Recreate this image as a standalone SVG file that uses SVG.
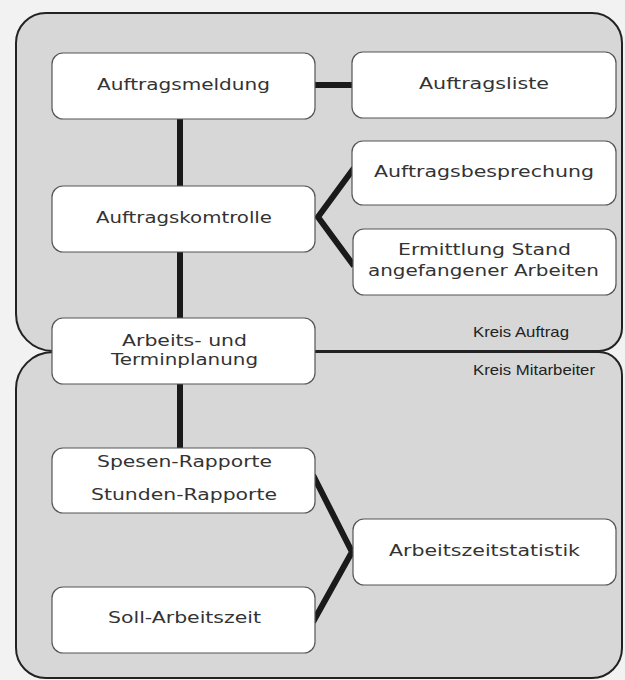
<svg xmlns="http://www.w3.org/2000/svg" width="625" height="680" viewBox="0 0 625 680">
<style>
.region{fill:#d7d7d7;stroke:#222;stroke-width:2}
.box{fill:#fff;stroke:#555;stroke-width:1.2}
.t{font-family:"DejaVu Sans","Liberation Sans",sans-serif;font-size:16px;fill:#333;text-anchor:middle}
.k{font-family:"Liberation Sans","Arial",sans-serif;font-size:15px;fill:#222}
.c{stroke:#1a1a1a;stroke-width:6;fill:none;stroke-linejoin:miter}
</style>
<rect x="0" y="0" width="625" height="680" fill="#f2f2f2"/>
<g id="regions">
<path class="region" d="M46 13 H592 A30 30 0 0 1 622 43 V328 A23 23 0 0 1 599 351 H53 A37 37 0 0 1 16 314 V43 A30 30 0 0 1 46 13 Z"/>
<path class="region" d="M53 352 H599 A23 23 0 0 1 622 375 V648 A30 30 0 0 1 592 678 H46 A30 30 0 0 1 16 648 V389 A37 37 0 0 1 53 352 Z"/>
<line x1="300" y1="351.5" x2="600" y2="351.5" stroke="#222" stroke-width="2.5"/>
</g>
<g id="connectors">
<line class="c" x1="310" y1="85" x2="356" y2="85"/>
<line class="c" x1="180" y1="115" x2="180" y2="190"/>
<line class="c" x1="180" y1="248" x2="180" y2="322"/>
<line class="c" x1="180" y1="380" x2="180" y2="452"/>
<polyline class="c" points="354,168 318,217 354,266"/>
<polyline class="c" points="313,475 352,552 313,622"/>
</g>
<g id="n-auftragsmeldung"><rect class="box" x="52" y="53" width="263" height="66" rx="11"/><text class="t" x="183.5" y="90" textLength="173" lengthAdjust="spacingAndGlyphs">Auftragsmeldung</text></g>
<g id="n-auftragsliste"><rect class="box" x="352" y="52" width="264" height="66" rx="11"/><text class="t" x="484" y="89" textLength="130" lengthAdjust="spacingAndGlyphs">Auftragsliste</text></g>
<g id="n-auftragsbesprechung"><rect class="box" x="352" y="141" width="264" height="64" rx="11"/><text class="t" x="484" y="177" textLength="220" lengthAdjust="spacingAndGlyphs">Auftragsbesprechung</text></g>
<g id="n-auftragskomtrolle"><rect class="box" x="52" y="186" width="263" height="66" rx="11"/><text class="t" x="184" y="223" textLength="176" lengthAdjust="spacingAndGlyphs">Auftragskomtrolle</text></g>
<g id="n-ermittlung"><rect class="box" x="353" y="229" width="263" height="66" rx="11"/><text class="t" x="484.5" y="255" textLength="173" lengthAdjust="spacingAndGlyphs">Ermittlung Stand</text><text class="t" x="483.5" y="276" textLength="231" lengthAdjust="spacingAndGlyphs">angefangener Arbeiten</text></g>
<g id="n-arbeitsplanung"><rect class="box" x="52" y="318" width="263" height="66" rx="11"/><text class="t" x="184.5" y="346" textLength="125" lengthAdjust="spacingAndGlyphs">Arbeits- und</text><text class="t" x="184.5" y="365" textLength="147" lengthAdjust="spacingAndGlyphs">Terminplanung</text></g>
<g id="labels"><text class="k" x="473" y="337" textLength="96" lengthAdjust="spacingAndGlyphs">Kreis Auftrag</text><text class="k" x="473" y="375" textLength="122" lengthAdjust="spacingAndGlyphs">Kreis Mitarbeiter</text></g>
<g id="n-rapporte"><rect class="box" x="52" y="448" width="263" height="65" rx="11"/><text class="t" x="184.5" y="467" textLength="175" lengthAdjust="spacingAndGlyphs">Spesen-Rapporte</text><text class="t" x="184" y="500" textLength="186" lengthAdjust="spacingAndGlyphs">Stunden-Rapporte</text></g>
<g id="n-soll"><rect class="box" x="52" y="587" width="263" height="66" rx="11"/><text class="t" x="184.5" y="623" textLength="153" lengthAdjust="spacingAndGlyphs">Soll-Arbeitszeit</text></g>
<g id="n-statistik"><rect class="box" x="353" y="519" width="263" height="66" rx="11"/><text class="t" x="484.5" y="556" textLength="191" lengthAdjust="spacingAndGlyphs">Arbeitszeitstatistik</text></g>
</svg>
